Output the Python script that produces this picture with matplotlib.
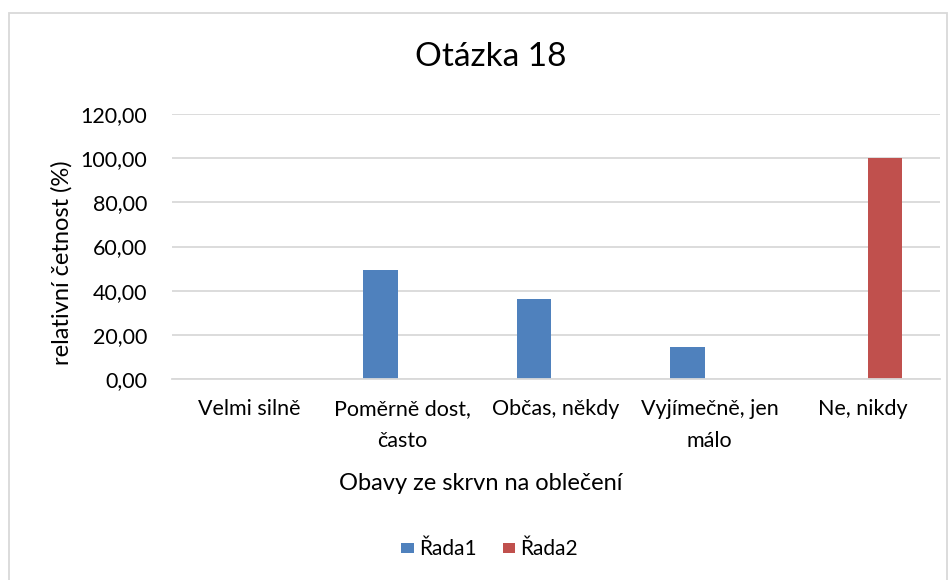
import numpy as np
import matplotlib.pyplot as plt
from matplotlib.patches import Rectangle

# data
kategorie = ["Velmi silně", "Poměrně dost,\nčasto", "Občas, někdy", "Vyjímečně, jen\nmálo", "Ne, nikdy"]
rada1 = [0, 49.2, 36.2, 14.5, 0]
rada2 = [0, 0, 0, 0, 100]

plt.rcParams['font.family'] = ['Lato', 'DejaVu Sans']

fig = plt.figure(figsize=(9.53, 5.8), dpi=100)
ax = fig.add_axes([0.181, 0.346, 0.805, 0.458])

x = np.arange(len(kategorie))
w = 0.226
ax.bar(x - 0.143, rada1, w, color='#4f81bd', label='Řada1')
ax.bar(x + 0.143, rada2, w, color='#c0504d', label='Řada2')

ax.set_xlim(-0.5, len(kategorie) - 0.5)
ax.set_ylim(0, 120)
ax.set_yticks(np.arange(0, 121, 20))
ax.set_yticklabels([f"{v:.2f}".replace('.', ',') for v in np.arange(0, 121, 20)], fontsize=15.5)
ax.set_xticks(x)
ax.set_xticklabels(kategorie, fontsize=15.5, linespacing=1.75, va='top')
ax.tick_params(axis='y', length=0, pad=18)
ax.tick_params(axis='x', length=0, pad=14)
ax.grid(axis='y', color='#d9d9d9', linewidth=1.3)
ax.set_axisbelow(True)
for s in ['top', 'right', 'left']:
    ax.spines[s].set_visible(False)
ax.spines['bottom'].set_color('#d9d9d9')
ax.spines['bottom'].set_linewidth(1.3)

fig.text(0.065, 0.547, 'relativní četnost (%)', fontsize=17, rotation=90, ha='center', va='center')
fig.text(0.504, 0.166, 'Obavy ze skrvn na oblečení', fontsize=17, ha='center', va='center')
fig.text(0.515, 0.902, 'Otázka 18', fontsize=24, ha='center', va='center')

fig.legend(loc='center', bbox_to_anchor=(0.514, 0.053), ncol=2, frameon=False,
           fontsize=15, handlelength=0.6, handleheight=0.4, handletextpad=0.25, columnspacing=1.25)

fig.patches.append(Rectangle((9 / 953, -0.1), 938 / 953, 1 - 13 / 580 + 0.1, transform=fig.transFigure,
                             fill=False, edgecolor='#d9d9d9', linewidth=1.3))

fig.savefig('out.png', dpi=100)
